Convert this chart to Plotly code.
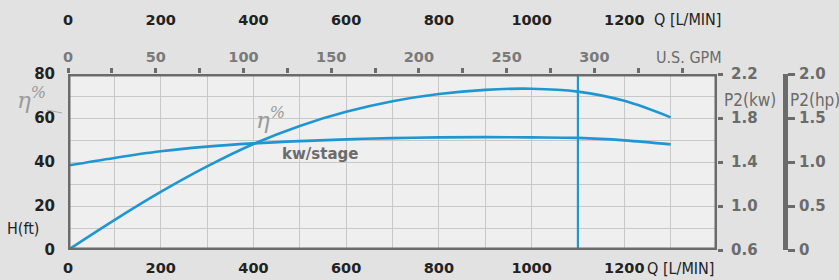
import plotly.graph_objects as go

# ---- data ----
q_lpm = [0, 100, 200, 300, 400, 500, 600, 700, 800, 900, 1000, 1100, 1200, 1300]
efficiency = [0, 13.6, 26.4, 38.0, 48.2, 56.4, 62.8, 67.6, 70.9, 72.8, 73.3, 72.0, 67.8, 60.3]
kw_stage = [1.368, 1.437, 1.497, 1.540, 1.569, 1.590, 1.606, 1.617, 1.624, 1.626, 1.624, 1.619, 1.597, 1.560]
duty_q = 1100

lpm_ticks = [0, 200, 400, 600, 800, 1000, 1200]
gpm_ticks = [0, 50, 100, 150, 200, 250, 300]
h_ticks = [0, 20, 40, 60, 80]
kw_ticks = [0.6, 1.0, 1.4, 1.8, 2.2]
kw_text = ["0.6", "1.0", "1.4", "1.8", "2.2"]
hp_ticks = [0, 0.5, 1.0, 1.5, 2.0]
hp_text = ["0", "0.5", "1.0", "1.5", "2.0"]

Q_MAX = 1400
LPM_PER_GPM = 3.785

BLUE = "#1e96d2"
BORDER = "#6b6b6b"
GRID = "#c8c8c8"
NUM_FONT = "DejaVu Sans"
COND_FONT = "Liberation Sans Narrow, DejaVu Sans Condensed, sans-serif"

W, H = 839, 280
ML, MR, MT, MB = 68, 10, 8, 30


def px(x):
    return (x - ML) / (W - ML - MR)


def py(y):
    return (H - MB - y) / (H - MT - MB)


fig = go.Figure()

fig.add_trace(go.Scatter(x=q_lpm, y=efficiency, mode="lines", line=dict(color=BLUE, width=2.6, shape="spline"),
                         xaxis="x", yaxis="y", hoverinfo="skip", showlegend=False))
fig.add_trace(go.Scatter(x=q_lpm, y=kw_stage, mode="lines", line=dict(color=BLUE, width=2.6, shape="spline"),
                         xaxis="x", yaxis="y2", hoverinfo="skip", showlegend=False))
fig.add_trace(go.Scatter(x=[duty_q, duty_q], y=[0, 80], mode="lines", line=dict(color=BLUE, width=2.2),
                         xaxis="x", yaxis="y", hoverinfo="skip", showlegend=False))
# helper traces to activate extra axes
fig.add_trace(go.Scatter(x=[0], y=[0], mode="markers", marker=dict(opacity=0), xaxis="x2", yaxis="y",
                         hoverinfo="skip", showlegend=False))
fig.add_trace(go.Scatter(x=[0], y=[0], mode="markers", marker=dict(opacity=0), xaxis="x3", yaxis="y",
                         hoverinfo="skip", showlegend=False))
fig.add_trace(go.Scatter(x=[0], y=[0], mode="markers", marker=dict(opacity=0), xaxis="x", yaxis="y3",
                         hoverinfo="skip", showlegend=False))

x_dom = [0, px(717)]
y_dom = [0, py(74)]

fig.update_layout(
    width=W, height=H,
    margin=dict(l=ML, r=MR, t=MT, b=MB, autoexpand=False),
    paper_bgcolor="#e2e2e2",
    plot_bgcolor="#efefef",
    xaxis=dict(domain=x_dom, range=[0, Q_MAX], tickvals=lpm_ticks, showgrid=True, gridcolor=GRID, gridwidth=1,
               minor=dict(dtick=100, tick0=0, showgrid=True, gridcolor=GRID, gridwidth=1),
               showline=False, zeroline=False, ticks="", ticklabelstandoff=7, automargin=False,
               tickfont=dict(family=NUM_FONT, size=14.5, color="#222222", weight="bold"), anchor="y"),
    xaxis2=dict(overlaying="x", side="top", anchor="y", range=[0, Q_MAX / LPM_PER_GPM], tickvals=gpm_ticks,
                showgrid=False, zeroline=False, showline=False, ticks="outside", ticklen=5, tickwidth=3,
                tickcolor=BORDER, automargin=False,
                minor=dict(dtick=25, tick0=0, ticks="outside", ticklen=5, tickwidth=3, tickcolor=BORDER),
                tickfont=dict(family=NUM_FONT, size=14.5, color="#7a7a7a", weight="bold")),
    xaxis3=dict(overlaying="x", side="top", anchor="free", position=py(28), range=[0, Q_MAX], tickvals=lpm_ticks,
                showgrid=False, zeroline=False, showline=False, ticks="", automargin=False,
                tickfont=dict(family=NUM_FONT, size=14.5, color="#222222", weight="bold")),
    yaxis=dict(domain=y_dom, range=[0, 80], tickvals=h_ticks, showgrid=True, gridcolor=GRID, gridwidth=1,
               minor=dict(dtick=10, tick0=0, showgrid=True, gridcolor=GRID, gridwidth=1),
               showline=False, zeroline=False, ticks="", ticklabelstandoff=12, automargin=False,
               tickfont=dict(family=NUM_FONT, size=15, color="#222222", weight="bold"), anchor="x"),
    yaxis2=dict(overlaying="y", side="right", anchor="x", range=[0.6, 2.2], tickvals=kw_ticks, ticktext=kw_text,
                showgrid=False, zeroline=False, showline=False, ticks="outside", ticklen=5, tickwidth=3,
                tickcolor=BORDER, ticklabelstandoff=5, automargin=False,
                tickfont=dict(family=NUM_FONT, size=15, color=BORDER, weight="bold")),
    yaxis3=dict(overlaying="y", side="right", anchor="free", position=px(785), range=[0, 2.0],
                tickvals=hp_ticks, ticktext=hp_text, showgrid=False, zeroline=False,
                showline=True, linewidth=5, linecolor=BORDER, ticks="outside", ticklen=7, tickwidth=3,
                tickcolor=BORDER, ticklabelstandoff=1, automargin=False,
                tickfont=dict(family=NUM_FONT, size=15, color=BORDER, weight="bold")),
    shapes=[
        dict(type="rect", xref="x", yref="y", x0=0, x1=Q_MAX, y0=0, y1=80,
             line=dict(color=BORDER, width=5), layer="above"),
        dict(type="line", xref="paper", yref="paper", x0=px(47), y0=py(110), x1=px(62), y1=py(113),
             line=dict(color="#a8a8a8", width=1)),
    ],
)

ann = [
    dict(text="Q [L/MIN]", x=px(687), y=py(20), font=dict(family=COND_FONT, size=16, color="#222222")),
    dict(text="U.S. GPM", x=px(689), y=py(58), font=dict(family=COND_FONT, size=16, color="#6b6b6b")),
    dict(text="Q [L/MIN]", x=px(680), y=py(268), font=dict(family=COND_FONT, size=16, color="#222222")),
    dict(text="P2(kw)", x=px(750), y=py(100), font=dict(family=COND_FONT, size=17, color="#6b6b6b")),
    dict(text="P2(hp)", x=px(815), y=py(100), font=dict(family=COND_FONT, size=17, color="#6b6b6b")),
    dict(text="H(ft)", x=px(23), y=py(228), font=dict(family=COND_FONT, size=16, color="#222222")),
    dict(text="η<sup>%</sup>", x=px(31), y=py(98),
         font=dict(family="DejaVu Serif", size=23, color="#9a9a9a", style="italic")),
    dict(text="η<sup>%</sup>", x=px(270), y=py(118),
         font=dict(family="DejaVu Serif", size=23, color="#9a9a9a", style="italic")),
    dict(text="kw/stage", x=px(320), y=py(154), font=dict(family=NUM_FONT, size=15, color="#6b6b6b", weight="bold")),
]
for a in ann:
    a.update(xref="paper", yref="paper", showarrow=False, xanchor="center", yanchor="middle")
fig.update_layout(annotations=ann)

fig.write_html("out.html", config={"displayModeBar": False},
               post_script="document.body.style.margin='0';")
